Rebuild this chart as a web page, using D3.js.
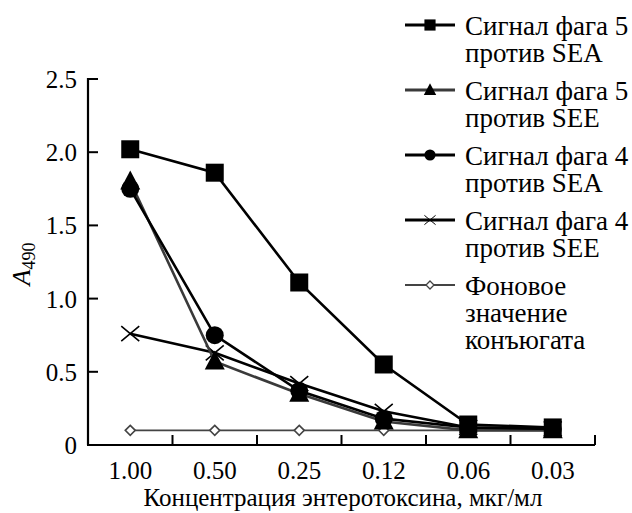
<!DOCTYPE html>
<html>
<head>
<meta charset="utf-8">
<script src="https://cdn.jsdelivr.net/npm/d3@7"></script>
<style>
  body { margin: 0; background: #fff; }
  svg, svg text, svg tspan { font-family: "Liberation Serif", "Times New Roman", Tinos, serif !important; }
</style>
</head>
<body>
<script>
// Data
var concentrations = ["1.00", "0.50", "0.25", "0.12", "0.06", "0.03"];
var phage5SEA = [2.02, 1.86, 1.11, 0.55, 0.14, 0.12];
var phage5SEE = [1.80, 0.57, 0.35, 0.16, 0.10, 0.10];
var phage4SEA = [1.75, 0.75, 0.37, 0.18, 0.12, 0.11];
var phage4SEE = [0.76, 0.63, 0.42, 0.23, 0.12, 0.11];
var background = [0.10, 0.10, 0.10, 0.10, 0.10, 0.10];
var yTicks = [0, 0.5, 1.0, 1.5, 2.0, 2.5];

var series = [
  { name: ["Сигнал фага 5", "против SEA"], values: phage5SEA, marker: "square", color: "#000", width: 2.6 },
  { name: ["Сигнал фага 5", "против SEE"], values: phage5SEE, marker: "triangle", color: "#3a3a3a", width: 2.6 },
  { name: ["Сигнал фага 4", "против SEA"], values: phage4SEA, marker: "circle", color: "#000", width: 2.6 },
  { name: ["Сигнал фага 4", "против SEE"], values: phage4SEE, marker: "cross", color: "#000", width: 2.6 },
  { name: ["Фоновое", "значение", "конъюгата"], values: background, marker: "diamond", color: "#444", width: 1.6 }
];

var font = '"Liberation Serif", "Times New Roman", serif';

var svgWidth = 632;
var svgHeight = 513;
var margin = { top: 79, right: 37, bottom: 68, left: 88 };
var width = svgWidth - margin.left - margin.right;
var height = svgHeight - margin.top - margin.bottom;

var svg = d3.select("body").append("svg")
  .attr("width", svgWidth)
  .attr("height", svgHeight)
  .attr("font-family", "Liberation Serif");

function serif(sel, size) {
  return sel.style("font-family", font, "important").style("font-size", size);
}

var chart = svg.append("g")
  .attr("transform", `translate(${margin.left}, ${margin.top})`);

var x = d3.scaleBand().domain(concentrations).range([0, width]);
var y = d3.scaleLinear().domain([0, 2.5]).range([height, 0]);
var yFormat = d => d === 0 ? "0" : d3.format(".1f")(d);

// y axis: ticks point inward
chart.selectAll(".ytick")
  .data(yTicks)
  .enter().append("line")
  .attr("x1", 0).attr("x2", 10)
  .attr("y1", d => y(d)).attr("y2", d => y(d))
  .attr("stroke", "#000").attr("stroke-width", 2);

serif(chart.selectAll(".ylabel")
  .data(yTicks)
  .enter().append("text")
  .attr("x", -11)
  .attr("y", d => y(d) + 9)
  .attr("text-anchor", "end"), "25px")
  .text(yFormat);

chart.append("line")
  .attr("x1", 0).attr("x2", 0).attr("y1", -1).attr("y2", height)
  .attr("stroke", "#000").attr("stroke-width", 2.2);

// x axis: ticks at the band boundaries, labels at band centres
chart.append("line")
  .attr("x1", -1).attr("x2", width).attr("y1", height).attr("y2", height)
  .attr("stroke", "#000").attr("stroke-width", 2.2);

var boundaries = concentrations.map(d => x(d) + x.bandwidth());
chart.selectAll(".xtick")
  .data(boundaries)
  .enter().append("line")
  .attr("x1", d => d).attr("x2", d => d)
  .attr("y1", height).attr("y2", height - 10)
  .attr("stroke", "#000").attr("stroke-width", 2);

serif(chart.selectAll(".xlabel")
  .data(concentrations)
  .enter().append("text")
  .attr("x", d => x(d) + x.bandwidth() / 2)
  .attr("y", height + 34)
  .attr("text-anchor", "middle"), "25px")
  .text(d => d);

serif(chart.append("text")
  .attr("x", 343 - margin.left)
  .attr("y", height + 61)
  .attr("text-anchor", "middle"), "25px")
  .text("Концентрация энтеротоксина, мкг/мл");

var yLabel = serif(svg.append("text")
  .attr("transform", "translate(30, 264) rotate(-90)")
  .attr("text-anchor", "middle"), "26px");
yLabel.append("tspan").style("font-style", "italic").text("A");
yLabel.append("tspan").attr("dy", 5).style("font-size", "18px").text("490");

function drawMarker(g, type, color) {
  if (type === "square") {
    g.append("rect").attr("x", -9).attr("y", -9).attr("width", 18).attr("height", 18)
      .attr("fill", "#000");
  } else if (type === "triangle") {
    g.append("path").attr("d", "M0,-11L10,8L-10,8Z").attr("fill", "#000");
  } else if (type === "circle") {
    g.append("circle").attr("r", 9).attr("fill", "#000");
  } else if (type === "cross") {
    g.append("path").attr("d", "M-9,-7.5L9,7.5M-9,7.5L9,-7.5")
      .attr("stroke", "#000").attr("stroke-width", 1.6).attr("fill", "none");
  } else if (type === "diamond") {
    g.append("path").attr("d", "M0,-5L5,0L0,5L-5,0Z")
      .attr("fill", "#fff").attr("stroke", color).attr("stroke-width", 1.6);
  }
}

var line = d3.line()
  .x((d, i) => x(concentrations[i]) + x.bandwidth() / 2)
  .y(d => y(d));

// draw background first, then signals on top
var drawOrder = [4, 3, 1, 2, 0];
drawOrder.forEach(function(k) {
  var s = series[k];
  chart.append("path")
    .attr("d", line(s.values))
    .attr("fill", "none")
    .attr("stroke", s.color)
    .attr("stroke-width", s.width);
  s.values.forEach(function(v, i) {
    var g = chart.append("g")
      .attr("transform", `translate(${x(concentrations[i]) + x.bandwidth() / 2}, ${y(v)})`);
    drawMarker(g, s.marker, s.color);
  });
});

// legend
var legend = svg.append("g");
var legendY = [25, 90, 155, 220, 285];
series.forEach(function(s, k) {
  var row = legend.append("g").attr("transform", `translate(0, ${legendY[k]})`);
  row.append("line")
    .attr("x1", 405).attr("x2", 455).attr("y1", 0).attr("y2", 0)
    .attr("stroke", s.color).attr("stroke-width", s.width + 0.6);
  var markerScale = s.marker === "diamond" ? 0.8 : 0.62;
  var m = row.append("g").attr("transform", `translate(430, 0) scale(${markerScale})`);
  drawMarker(m, s.marker, s.color);
  s.name.forEach(function(t, j) {
    serif(row.append("text")
      .attr("class", "legend-text")
      .attr("x", 465)
      .attr("y", 10 + j * 27), "30px")
      .text(t);
  });
});

// keep the legend inside the picture whatever font is picked
var widest = d3.max(legend.selectAll(".legend-text").nodes(), n => n.getComputedTextLength());
if (widest > 163) {
  legend.selectAll(".legend-text").style("font-size", (30 * 163 / widest).toFixed(1) + "px");
}
</script>
</body>
</html>
